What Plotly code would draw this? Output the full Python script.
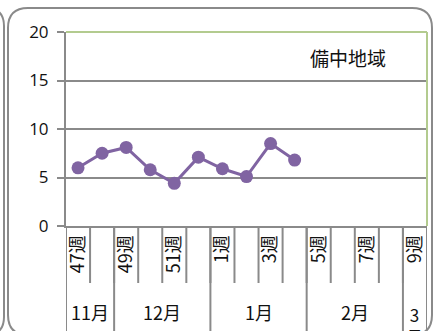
import plotly.graph_objects as go

# Weekly values (week number of the season, Nov -> Mar)
weeks = ["47", "48", "49", "50", "51", "52", "1", "2", "3", "4", "5", "6", "7", "8", "9"]
values = [6.0, 7.5, 8.1, 5.8, 4.4, 7.1, 5.9, 5.1, 8.5, 6.8]
months = ["11月", "12月", "1月", "2月", "3月"]
month_weeks = [2, 4, 4, 4, 1]
region = "備中地域"

cats = [w + "週" for w in weeks]
tick_text = [c if i % 2 == 0 else "" for i, c in enumerate(cats)]

W, H = 436, 331
ML, MR, MT, MB = 66, 9, 32, 105
PW, PH = W - ML - MR, H - MT - MB

GRAY = "#8a8a8a"
GREEN = "#b3cb8f"
PURPLE = "#8064a2"
CJK = "Noto Sans CJK JP"


def px(x):
    return (x - ML) / PW


def py(y):
    return (H - MB - y) / PH


fig = go.Figure()
fig.add_trace(go.Scatter(
    x=cats[:len(values)], y=values, mode="lines+markers",
    line=dict(color=PURPLE, width=3),
    marker=dict(color=PURPLE, size=13),
    cliponaxis=False, showlegend=False,
))

shapes = []
# week dividers below the axis
for i in range(len(cats) + 1):
    shapes.append(dict(type="line", xref="x", yref="paper",
                       x0=i - 0.5, x1=i - 0.5, y0=0, y1=-57 / PH,
                       line=dict(color=GRAY, width=2)))
# month dividers run to the bottom of the panel
annotations = []
start = 0
bounds = [0]
for m, n in zip(months, month_weeks):
    start += n
    bounds.append(start)
for b in bounds:
    shapes.append(dict(type="line", xref="x", yref="paper",
                       x0=b - 0.5, x1=b - 0.5, y0=0, y1=-0.7,
                       line=dict(color=GRAY, width=2)))
for k, m in enumerate(months):
    a, b = bounds[k], bounds[k + 1]
    if b - a == 1:
        annotations.append(dict(xref="x", yref="paper", x=(a + b - 1) / 2,
                                y=py(300), yanchor="top", showarrow=False,
                                text=m[:-1] + "<br>" + m[-1],
                                font=dict(family=CJK, size=17, color="#111")))
    else:
        annotations.append(dict(xref="x", yref="paper", x=(a + b - 1) / 2,
                                y=py(312), yanchor="middle", showarrow=False,
                                text=m, font=dict(family=CJK, size=18, color="#111")))

# green plot frame (top and right)
shapes.append(dict(type="line", xref="paper", yref="paper", x0=0, x1=1, y0=1, y1=1,
                   line=dict(color=GREEN, width=2)))
shapes.append(dict(type="line", xref="paper", yref="paper", x0=1, x1=1, y0=0, y1=1,
                   line=dict(color=GREEN, width=2)))


def rounded_panel(x0, y0, x1, y1, r):
    return ("M {a},{b} L {c},{b} Q {d},{b} {d},{e} L {d},{f} Q {d},{g} {c},{g} "
            "L {a},{g} Q {h},{g} {h},{f} L {h},{e} Q {h},{b} {a},{b} Z").format(
        a=px(x0 + r), b=py(y0), c=px(x1 - r), d=px(x1), e=py(y0 + r),
        f=py(y1 - r), g=py(y1), h=px(x0))


shapes.append(dict(type="path", xref="paper", yref="paper",
                   path=rounded_panel(8, 8, 432, 335, 20),
                   line=dict(color=GRAY, width=2)))
shapes.append(dict(type="path", xref="paper", yref="paper",
                   path=rounded_panel(-300, 8, 4, 335, 18),
                   line=dict(color=GRAY, width=2)))

annotations.append(dict(xref="paper", yref="paper", x=px(388), y=py(58),
                        xanchor="right", yanchor="middle", showarrow=False,
                        text=region, font=dict(family=CJK, size=19, color="#111")))

fig.update_layout(
    width=W, height=H, autosize=False,
    margin=dict(l=ML, r=MR, t=MT, b=MB),
    paper_bgcolor="white", plot_bgcolor="white",
    shapes=shapes, annotations=annotations,
    xaxis=dict(type="category", categoryarray=cats, range=[-0.5, len(cats) - 0.5],
               tickvals=cats, ticktext=tick_text, tickangle=-90,
               ticks="", showgrid=False, showline=True, linecolor=GRAY, linewidth=2,
               tickfont=dict(family=CJK, size=18, color="#111"), zeroline=False),
    yaxis=dict(range=[0, 20], dtick=5, showgrid=True, gridcolor=GRAY, gridwidth=2,
               showline=True, linecolor=GRAY, linewidth=2, ticks="outside",
               ticklen=7, tickwidth=2, tickcolor=GRAY, zeroline=False,
               ticklabelstandoff=5,
               tickfont=dict(family="Open Sans", size=17, color="#111")),
)

fig.write_html("out.html")
